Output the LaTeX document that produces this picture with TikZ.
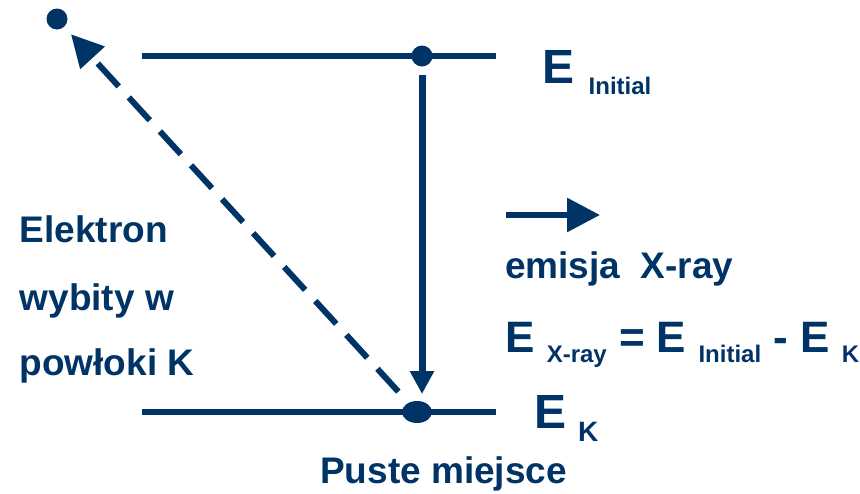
\documentclass[tikz,border=0pt]{standalone}
\usepackage{fontspec}
\setmainfont{Liberation Sans}
\usetikzlibrary{arrows.meta,shapes.geometric}
\definecolor{navy}{RGB}{0,51,102}
\newcommand\fsz[1]{\fontsize{#1}{#1}\selectfont}
\newcommand\lowsub[1]{\raisebox{-10pt}{\fsz{24}#1}}
\begin{document}
\begin{tikzpicture}[x=1pt,y=-1pt,
  level/.style={line width=6pt, draw=navy},
  dotnode/.style={circle, fill=navy, minimum size=21pt, inner sep=0pt},
  lbl/.style={text=navy, font=\bfseries\fsz{37}, anchor=base west, inner sep=0pt},
  bigE/.style={text=navy, font=\bfseries\fsz{48}, anchor=base west, inner sep=0pt},
  subl/.style={text=navy, font=\bfseries\fsz{24}, anchor=base west, inner sep=0pt}]
\useasboundingbox (0,0) rectangle (860,493);
% levels
\coordinate (tl) at (142,56);
\coordinate (tr) at (496,56);
\coordinate (bl) at (142,412);
\coordinate (br) at (496,412);
\draw[level] (tl) -- (tr);
\draw[level] (bl) -- (br);
% electrons
\node[dotnode] (ej) at (57,19) {};
\node[dotnode] (init) at (422,56) {};
\node[ellipse, fill=navy, minimum width=30pt, minimum height=22pt, inner sep=0pt] (vac) at (417,412) {};
% transition arrow
\draw[line width=7pt, draw=navy, -{Triangle[length=23pt,width=23pt]}, shorten <=8pt, shorten >=18pt] (init) -- (init |- vac);
% ejection arrow
\draw[line width=6pt, draw=navy, dash pattern=on 31pt off 15pt, -{Triangle[length=32pt,width=32pt]}, shorten <=15pt, shorten >=10pt] (vac) -- (ej);
% emission arrow
\coordinate (h1) at (506,215);
\coordinate (h2) at (600,215);
\draw[line width=6pt, draw=navy, -{Triangle[length=33pt,width=33pt]}] (h1) -- (h2);
% labels
\node[bigE] (eI) at (542.5,83) {E};
\node[subl] (eIs) at (588.5,94) {Initial};
\node[bigE] (eK) at (534,428) {E};
\node[subl, font=\bfseries\fsz{28}] (eKs) at (578,441) {K};
\node[lbl] (l1) at (19.5,242) {Elektron};
\node[lbl] (l2) at (19.5,310) {wybity w};
\node[lbl] (l3) at (19.5,375) {powłoki K};
\node[lbl] (em) at (505,278) {emisja\ \ X-ray};
\node[lbl, font=\bfseries\fsz{44}] (eq) at (505,352) {E \lowsub{X-ray} = E \lowsub{Initial} - E \lowsub{K}};
\node[lbl] (ps) at (320,483) {Puste miejsce};
\end{tikzpicture}
\end{document}
